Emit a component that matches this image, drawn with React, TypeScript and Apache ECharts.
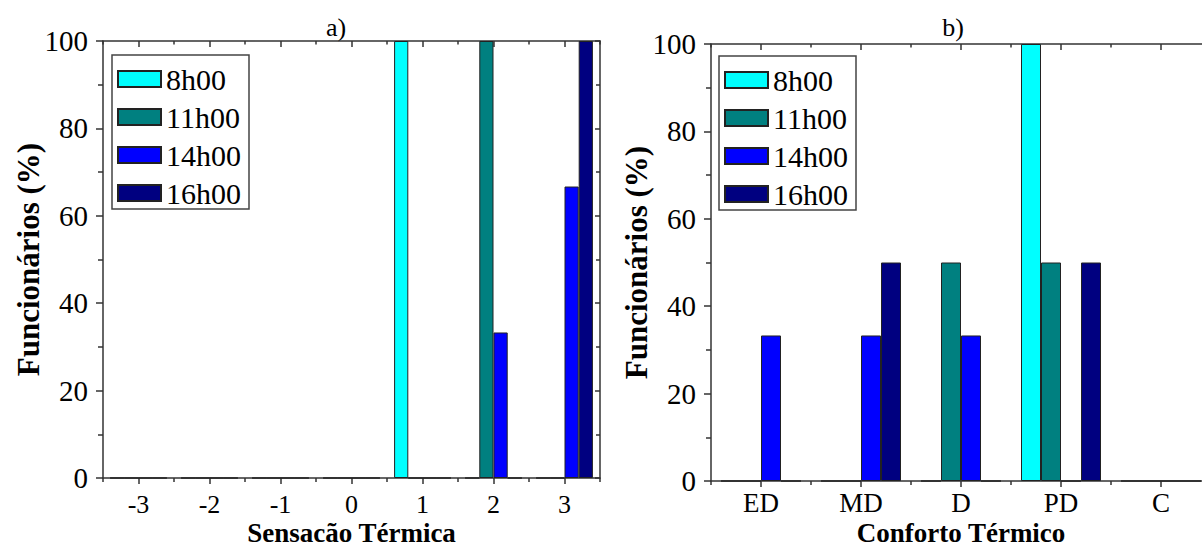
import React, { useEffect, useRef } from "react";
import * as echarts from "echarts";

const seriesNames = ["8h00", "11h00", "14h00", "16h00"];
const seriesColors = ["#00FFFF", "#008080", "#0000FF", "#000080"];

// Panel a) Sensação Térmica
const catsA = ["-3", "-2", "-1", "0", "1", "2", "3"];
const a8h = [0, 0, 0, 0, 100, 0, 0];
const a11h = [0, 0, 0, 0, 0, 100, 0];
const a14h = [0, 0, 0, 0, 0, 33.3, 66.7];
const a16h = [0, 0, 0, 0, 0, 0, 100];

// Panel b) Conforto Térmico
const catsB = ["ED", "MD", "D", "PD", "C"];
const b8h = [0, 0, 0, 100, 0];
const b11h = [0, 0, 50, 50, 0];
const b14h = [33.3, 33.3, 33.3, 0, 0];
const b16h = [0, 50, 0, 50, 0];

const yTicks = { min: 0, max: 100, interval: 20 };

const FONT = "Liberation Serif";
const AX = "#333";
const lineStyle = { color: AX, width: 1.5 };

function makeXAxes(gridIndex: number, cats: string[], name: string, labelSize: number, labelMargin: number, nameGap: number) {
  return [
    {
      type: "category", gridIndex, data: cats, position: "bottom",
      axisLine: { show: true, onZero: false, lineStyle },
      axisTick: { show: true, alignWithLabel: true, interval: 0, length: 6, lineStyle },
      axisLabel: { show: true, interval: 0, fontSize: labelSize, fontFamily: FONT, color: "#000", margin: labelMargin },
      splitLine: { show: false },
      name, nameLocation: "middle", nameGap, nameMoveOverlap: false,
      nameTextStyle: { fontSize: 27, fontWeight: "bold", fontFamily: FONT, color: "#000" },
    },
    {
      type: "category", gridIndex, data: cats, position: "bottom",
      axisLine: { show: false, onZero: false },
      axisTick: { show: true, alignWithLabel: false, interval: 0, length: 4, lineStyle },
      axisLabel: { show: false, interval: 0 },
      splitLine: { show: false },
    },
    {
      type: "category", gridIndex, data: cats, position: "top",
      axisLine: { show: true, onZero: false, lineStyle },
      axisTick: { show: true, inside: true, alignWithLabel: true, interval: 0, length: 6, lineStyle },
      axisLabel: { show: false, interval: 0 },
      splitLine: { show: false },
    },
    {
      type: "category", gridIndex, data: cats, position: "top",
      axisLine: { show: false, onZero: false },
      axisTick: { show: true, inside: true, alignWithLabel: false, interval: 0, length: 3.5, lineStyle },
      axisLabel: { show: false, interval: 0 },
      splitLine: { show: false },
    },
  ];
}

function makeYAxes(gridIndex: number) {
  return [
    {
      type: "value", gridIndex, position: "left", ...yTicks,
      axisLine: { show: true, onZero: false, lineStyle },
      axisTick: { show: true, length: 7, lineStyle },
      minorTick: { show: true, splitNumber: 2, length: 5, lineStyle },
      axisLabel: { fontSize: 29, fontFamily: FONT, color: "#000", margin: 15 },
      splitLine: { show: false },
      minorSplitLine: { show: false },
      name: "Funcionários (%)", nameLocation: "middle", nameGap: 59, nameMoveOverlap: false,
      nameTextStyle: { fontSize: 31, fontWeight: "bold", fontFamily: FONT, color: "#000" },
    },
    {
      type: "value", gridIndex, position: "right", ...yTicks,
      axisLine: { show: true, onZero: false, lineStyle },
      axisTick: { show: true, inside: true, length: 5, lineStyle },
      minorTick: { show: true, splitNumber: 2, length: 4, lineStyle },
      axisLabel: { show: false },
      splitLine: { show: false },
      minorSplitLine: { show: false },
    },
  ];
}

function makeSeries(xAxisIndex: number, yAxisIndex: number, datasets: number[][]) {
  return datasets.map((d, i) => ({
    type: "bar",
    name: seriesNames[i],
    xAxisIndex, yAxisIndex,
    data: d,
    barWidth: "20%",
    barGap: "0%",
    itemStyle: { color: seriesColors[i], borderColor: "#222", borderWidth: 1 },
    emphasis: { disabled: true },
  }));
}

function makeLegend(left: number, top: number) {
  return {
    data: seriesNames,
    orient: "vertical",
    left, top,
    icon: "rect",
    itemWidth: 43, itemHeight: 16, itemGap: 8,
    padding: [9, 8, 1, 5],
    borderColor: "#444", borderWidth: 1.5,
    textStyle: { fontSize: 30, fontFamily: FONT, color: "#000" },
    selectedMode: false,
  };
}

export default function App() {
  const ref = useRef<HTMLDivElement>(null);
  useEffect(() => {
    if (!ref.current) return;
    const chart = echarts.init(ref.current, undefined, { renderer: "svg" });
    chart.setOption({
      animation: false,
      backgroundColor: "#fff",
      textStyle: { fontFamily: FONT },
      grid: [
        { left: 103, top: 41, width: 497, height: 437, outerBoundsMode: "none", containLabel: false },
        { left: 711, top: 44, width: 500, height: 437, outerBoundsMode: "none", containLabel: false },
      ],
      xAxis: [
        ...makeXAxes(0, catsA, "Sensacão Térmica", 26, 13, 41),
        ...makeXAxes(1, catsB, "Conforto Térmico", 27, 8, 38),
      ],
      yAxis: [...makeYAxes(0), ...makeYAxes(1)],
      legend: [makeLegend(112, 55), makeLegend(719, 56)],
      series: [
        ...makeSeries(0, 0, [a8h, a11h, a14h, a16h]),
        ...makeSeries(4, 2, [b8h, b11h, b14h, b16h]),
      ],
      graphic: [
        { type: "text", style: { text: "a)", x: 336, y: 27, align: "center", verticalAlign: "middle", font: `26px ${FONT}`, fill: "#000" } },
        { type: "text", style: { text: "b)", x: 953, y: 27, align: "center", verticalAlign: "middle", font: `26px ${FONT}`, fill: "#000" } },
      ],
    });
    return () => chart.dispose();
  }, []);
  return <div ref={ref} style={{ position: "fixed", left: 0, top: 0, width: 1202, height: 546 }} />;
}
